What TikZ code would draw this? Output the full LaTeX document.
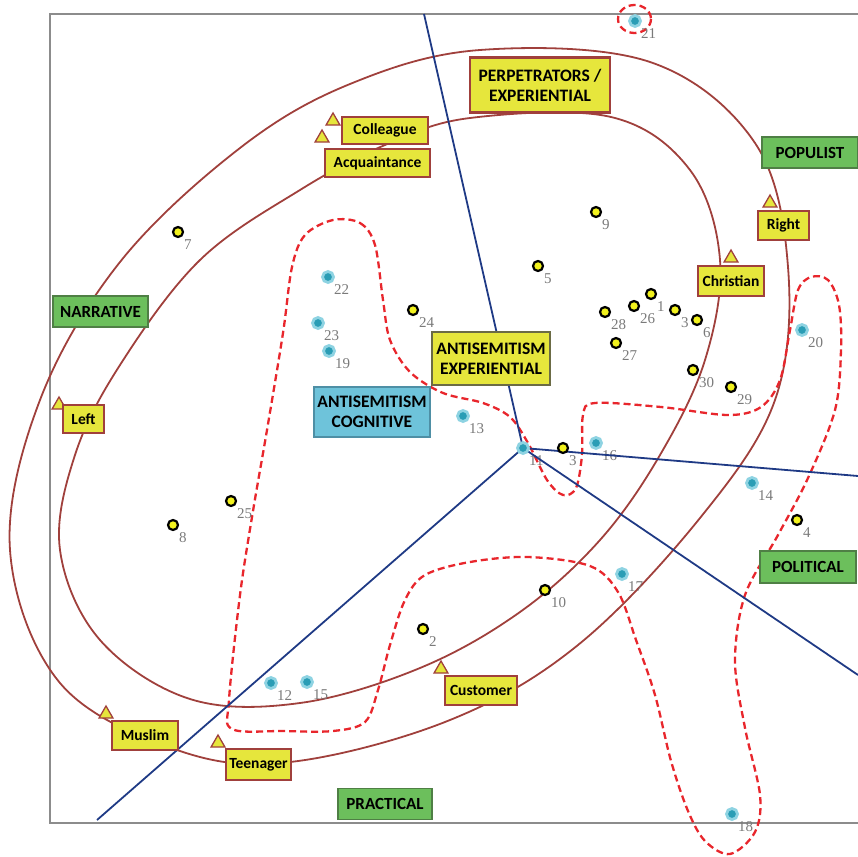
\documentclass[tikz,border=0pt]{standalone}
\usepackage{fontspec}
\setmainfont{Liberation Serif}
\newfontfamily\tagfamily{Carlito}
\usetikzlibrary{shapes.geometric}

\definecolor{brn}{HTML}{A0403C}
\definecolor{axisblue}{HTML}{1F3A85}
\definecolor{dashred}{HTML}{E8262C}
\definecolor{tagyellow}{HTML}{E6E63C}
\definecolor{ptyellow}{HTML}{F2F21E}
\definecolor{grnfill}{HTML}{6CBF5C}
\definecolor{grnline}{HTML}{4F7F45}
\definecolor{cyanfill}{HTML}{6EC3DA}
\definecolor{cyanline}{HTML}{4E8FA5}
\definecolor{olive}{HTML}{6B6B45}
\definecolor{ptteal}{HTML}{2A9DB5}
\definecolor{pthalo}{HTML}{8ED3E2}
\definecolor{framegray}{HTML}{8C8C8C}
\definecolor{numgray}{HTML}{7A7A7A}

\tikzset{
  ring/.style={draw=brn, line width=1.8pt},
  cluster/.style={draw=dashred, line width=2.3pt, dash pattern=on 7pt off 4pt},
  axisline/.style={draw=axisblue, line width=1.8pt},
  ypt/.style={circle, draw=black, line width=2.2pt, fill=ptyellow, inner sep=0pt, minimum size=10pt},
  bpt/.style={circle, draw=pthalo, line width=2.8pt, fill=ptteal, inner sep=0pt, minimum size=11pt},
  num/.style={text=numgray, font=\fontsize{15}{15}\selectfont, inner sep=0pt, anchor=north west},
  tag/.style={draw=brn, line width=1.3pt, fill=tagyellow, inner sep=0pt,
    font=\tagfamily\bfseries\fontsize{15.5}{15.5}\selectfont},
  dim/.style={draw=grnline, line width=1.3pt, fill=grnfill, inner sep=0pt,
    minimum width=95pt, minimum height=31pt, font=\tagfamily\bfseries\fontsize{17}{17}\selectfont},
  theme/.style={line width=1.3pt, inner sep=0pt, align=center,
    font=\tagfamily\bfseries\fontsize{17.5}{20}\selectfont},
  marker/.style={regular polygon, regular polygon sides=3, draw=brn, fill=tagyellow,
    line width=1.3pt, inner sep=0pt, minimum size=16pt}
}

\begin{document}
\begin{tikzpicture}[x=1pt,y=-1pt]

  \def\xmin{50}
  \def\xmax{858}
  \def\ymin{14}
  \def\ymax{823}

  \useasboundingbox (0,0) rectangle (858,856);

  % frame
  \draw[framegray, line width=1.5pt] (\xmax,\ymin) -- (\xmin,\ymin) -- (\xmin,\ymax) -- (\xmax,\ymax);

  % outer and inner rings
  \draw[ring] plot[smooth cycle, tension=0.6] coordinates {
    (480,50) (650,62) (755,143) (788,267) (775,400) (700,518)
    (578,645) (450,720) (290,762) (177,750) (60,683) (10,550)
    (40,400) (120,262) (240,148) (350,84)
  };
  \draw[ring] plot[smooth cycle, tension=0.6] coordinates {
    (470,118) (611,117) (690,170) (720,260) (705,360) (660,455)
    (600,540) (520,612) (420,668) (300,703) (190,699) (100,640)
    (60,550) (75,455) (120,365) (200,260) (300,190) (385,145)
  };

  % dashed clusters
  \draw[cluster] (634.5,19) ellipse [x radius=16.5, y radius=14];
  \draw[cluster] plot[smooth cycle, tension=0.55] coordinates {
    (333,220) (360,223) (375,245) (383,300) (390,340) (410,372)
    (443,393) (483,403) (510,417) (528,443) (547,480) (563,495)
    (576,488) (582,455) (583,415) (595,403) (661,407) (728,415)
    (761,407) (780,380) (790,330) (798,290) (811,277) (828,280)
    (839,305) (841,350) (835,410) (808,478) (778,535) (745,595)
    (735,661) (745,728) (760,795) (755,832) (730,854) (705,841)
    (688,811) (671,761) (655,695) (636,640) (618,592) (590,566)
    (528,557) (470,562) (425,575) (405,600) (390,645) (378,690)
    (365,722) (333,731) (283,731) (232,729) (229,700) (240,595)
    (253,511) (267,430) (283,333) (292,267) (305,235)
  };

  % point labels
  \foreach \id/\t/\x/\y in {7/7/178/232, 24/24/413/310, 5/5/538/266, 9/9/596/212,
      1/1/651/294, 26/26/634/306, 28/28/605/312, 31/3/675/310, 6/6/697/320,
      27/27/616/343, 30/30/693/370, 29/29/731/387, 3/3/563/448, 25/25/231/501,
      8/8/173/525, 10/10/545/590, 2/2/423/629, 4/4/797/520}
  {
    \coordinate (c\id) at (\x,\y);
    \node[num] (l\id) at ([xshift=6pt,yshift=-7pt]c\id) {\t};
  }
  \foreach \id/\x/\y in {21/635/21, 22/328/277, 23/318/323, 19/329/351, 13/463/416,
      11/523/448, 16/596/443, 14/752/483, 17/622/574, 12/271/683, 15/307/682,
      18/732/814, 20/802/330}
  {
    \coordinate (c\id) at (\x,\y);
    \node[num] (l\id) at ([xshift=6pt,yshift=-7pt]c\id) {\id};
  }

  % axes through point 11
  \coordinate (axN) at (424,14);
  \coordinate (axE) at (858,476);
  \coordinate (axSE) at (858,675);
  \coordinate (axSW) at (97,820);
  \draw[axisline] (c11) -- (axN);
  \draw[axisline] (c11) -- (axE);
  \draw[axisline] (c11) -- (axSE);
  \draw[axisline] (c11) -- (axSW);

  % points
  \foreach \id in {7,24,5,9,1,26,28,31,6,27,30,29,3,25,8,10,2,4}
    \node[ypt] (p\id) at (c\id) {};
  \foreach \id in {21,22,23,19,13,11,16,14,17,12,15,18,20}
    \node[bpt] (p\id) at (c\id) {};

  % markers
  \node[marker] (mColleague) at (333,121) {};
  \node[marker] (mAcquaintance) at (322,138) {};
  \node[marker] (mRight) at (770,203) {};
  \node[marker] (mChristian) at (731,258) {};
  \node[marker] (mLeft) at (59,405) {};
  \node[marker] (mMuslim) at (106,714) {};
  \node[marker] (mTeenager) at (218,743) {};
  \node[marker] (mCustomer) at (441,669) {};

  % tags
  \node[tag, minimum width=86pt, minimum height=27pt] (colleague) at (385,130.5) {Colleague};
  \node[tag, minimum width=105pt, minimum height=28pt] (acquaintance) at (377.5,163) {Acquaintance};
  \node[tag, minimum width=51pt, minimum height=29pt] (right) at (783.5,225.5) {Right};
  \node[tag, minimum width=66pt, minimum height=30pt] (christian) at (731,281) {Christian};
  \node[tag, minimum width=41pt, minimum height=28pt] (left) at (83.5,419) {Left};
  \node[tag, minimum width=66pt, minimum height=29pt] (muslim) at (145,735.5) {Muslim};
  \node[tag, minimum width=65pt, minimum height=31pt] (teenager) at (258.5,764.5) {Teenager};
  \node[tag, minimum width=72pt, minimum height=29pt] (customer) at (481,690.5) {Customer};

  % dimensions
  \node[dim, minimum width=96pt] (populist) at (810,152.5) {POPULIST};
  \node[dim] (narrative) at (100.5,311.5) {NARRATIVE};
  \node[dim, minimum width=96pt, minimum height=32pt] (political) at (808,567) {POLITICAL};
  \node[dim, minimum width=94pt] (practical) at (385,804) {PRACTICAL};

  % themes
  \node[theme, draw=brn, line width=2.5pt, fill=tagyellow, minimum width=140pt, minimum height=55pt]
    (perpetrators) at (540,85) {PERPETRATORS /\\EXPERIENTIAL};
  \node[theme, draw=olive, fill=tagyellow, minimum width=118pt, minimum height=53pt]
    (experiential) at (491,358.5) {ANTISEMITISM\\EXPERIENTIAL};
  \node[theme, draw=cyanline, fill=cyanfill, minimum width=116pt, minimum height=50pt]
    (cognitive) at (372,412) {ANTISEMITISM\\COGNITIVE};

\end{tikzpicture}
\end{document}
